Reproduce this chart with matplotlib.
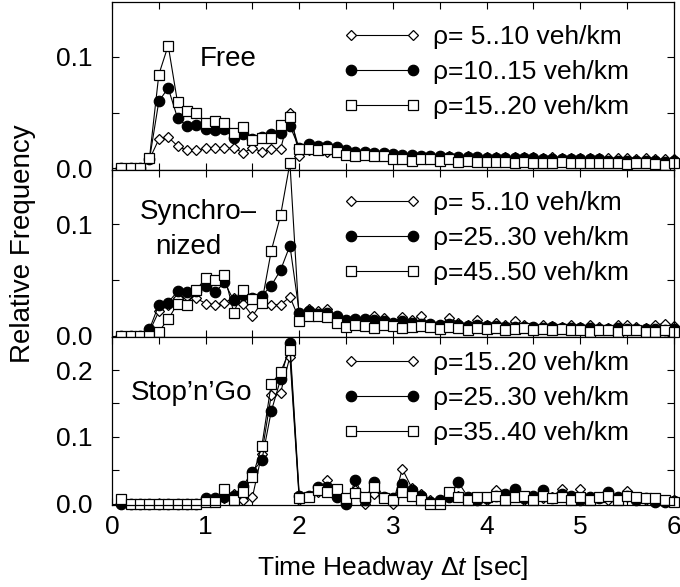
import numpy as np
import matplotlib
matplotlib.use("Agg")
import matplotlib.pyplot as plt
from matplotlib.ticker import MultipleLocator, FormatStrFormatter

plt.rcParams['font.family'] = ['Liberation Sans', 'DejaVu Sans']
plt.rcParams['mathtext.fontset'] = 'custom'
plt.rcParams['mathtext.rm'] = 'Liberation Sans'
plt.rcParams['mathtext.it'] = 'Liberation Sans:italic'

# time headway bins [sec]
headway = np.round(np.arange(1, 61) * 0.1, 1)

# free traffic
free_lo = [0, 0, 0, 0.008, 0.026, 0.028, 0.020, 0.016, 0.016, 0.018,
           0.018, 0.018, 0.018, 0.014, 0.018, 0.015, 0.017, 0.017, 0.050, 0.011,
           0.016, 0.016, 0.015, 0.016, 0.014, 0.014, 0.013, 0.013, 0.012, 0.012,
           0.011, 0.012, 0.011, 0.011, 0.011, 0.011, 0.010, 0.011, 0.010, 0.010,
           0.010, 0.010, 0.010, 0.010, 0.010, 0.009, 0.010, 0.009, 0.009, 0.009,
           0.009, 0.009, 0.009, 0.009, 0.009, 0.008, 0.009, 0.008, 0.008, 0.008]
free_mid = [0, 0, 0, 0.008, 0.060, 0.072, 0.045, 0.038, 0.039, 0.035,
            0.034, 0.035, 0.027, 0.031, 0.026, 0.028, 0.031, 0.032, 0.038, 0.018,
            0.022, 0.020, 0.020, 0.019, 0.016, 0.015, 0.015, 0.014, 0.014, 0.013,
            0.012, 0.012, 0.011, 0.011, 0.011, 0.010, 0.010, 0.010, 0.010, 0.009,
            0.009, 0.009, 0.009, 0.009, 0.009, 0.008, 0.008, 0.008, 0.008, 0.008,
            0.008, 0.008, 0.007, 0.007, 0.007, 0.007, 0.007, 0.007, 0.006, 0.007]
free_hi = [0, 0, 0, 0.009, 0.084, 0.110, 0.059, 0.051, 0.050, 0.041,
           0.042, 0.041, 0.032, 0.037, 0.025, 0.027, 0.027, 0.039, 0.046, 0.017,
           0.017, 0.016, 0.017, 0.015, 0.012, 0.011, 0.012, 0.011, 0.011, 0.008,
           0.008, 0.007, 0.008, 0.008, 0.007, 0.008, 0.006, 0.007, 0.006, 0.006,
           0.006, 0.006, 0.005, 0.006, 0.005, 0.005, 0.005, 0.006, 0.005, 0.005,
           0.005, 0.005, 0.005, 0.005, 0.004, 0.005, 0.005, 0.004, 0.003, 0.005]

# synchronized traffic
sync_lo = [0, 0, 0, 0.004, 0.022, 0.028, 0.034, 0.036, 0.034, 0.029,
           0.028, 0.030, 0.034, 0.029, 0.018, 0.030, 0.028, 0.028, 0.035, 0.015,
           0.024, 0.022, 0.024, 0.015, 0.012, 0.014, 0.012, 0.018, 0.016, 0.012,
           0.017, 0.014, 0.018, 0.010, 0.010, 0.016, 0.012, 0.010, 0.014, 0.010,
           0.012, 0.010, 0.013, 0.010, 0.008, 0.010, 0.009, 0.008, 0.010, 0.008,
           0.010, 0.008, 0.007, 0.010, 0.010, 0.008, 0.007, 0.010, 0.011, 0.009]
sync_mid = [0, 0, 0, 0.006, 0.028, 0.030, 0.040, 0.039, 0.040, 0.045,
            0.039, 0.048, 0.032, 0.037, 0.034, 0.036, 0.045, 0.059, 0.081, 0.021,
            0.022, 0.020, 0.021, 0.018, 0.014, 0.015, 0.015, 0.014, 0.013, 0.012,
            0.013, 0.012, 0.011, 0.011, 0.010, 0.011, 0.010, 0.009, 0.010, 0.009,
            0.009, 0.008, 0.008, 0.008, 0.008, 0.007, 0.008, 0.007, 0.007, 0.007,
            0.007, 0.006, 0.006, 0.007, 0.006, 0.006, 0.006, 0.006, 0.005, 0.006]
sync_hi = [0, 0, 0, 0, 0.004, 0.015, 0.029, 0.028, 0.041, 0.052,
           0.050, 0.055, 0.021, 0.041, 0.033, 0.030, 0.076, 0.108, 0.155, 0.013,
           0.018, 0.018, 0.017, 0.012, 0.008, 0.010, 0.009, 0.007, 0.010, 0.009,
           0.007, 0.008, 0.009, 0.008, 0.006, 0.008, 0.007, 0.005, 0.007, 0.006,
           0.007, 0.005, 0.006, 0.007, 0.005, 0.006, 0.005, 0.006, 0.005, 0.005,
           0.004, 0.005, 0.005, 0.004, 0.005, 0.005, 0.004, 0.004, 0.005, 0.004]

# stop-and-go traffic
stop_lo = [0.005, 0, 0, 0, 0, 0, 0, 0, 0, 0.003,
           0.004, 0.008, 0.015, 0.005, 0.010, 0.075, 0.162, 0.166, 0.220, 0.005,
           0.010, 0.018, 0.036, 0.015, 0.005, 0.020, 0.0, 0.015, 0.008, 0.0,
           0.052, 0.024, 0.015, 0.005, 0.005, 0.010, 0.012, 0.008, 0.010, 0.005,
           0.021, 0.008, 0.012, 0.005, 0.010, 0.008, 0.010, 0.022, 0.005, 0.022,
           0.008, 0.010, 0.005, 0.010, 0.019, 0.008, 0.005, 0.005, 0.005, 0.005]
stop_mid = [0, 0, 0, 0, 0, 0, 0, 0, 0, 0.009,
            0.008, 0.010, 0.012, 0.027, 0.048, 0.065, 0.138, 0.186, 0.240, 0.012,
            0.012, 0.025, 0.025, 0.010, 0.0, 0.035, 0.005, 0.033, 0.010, 0.008,
            0.030, 0.020, 0.012, 0.002, 0.005, 0.010, 0.032, 0.010, 0.005, 0.008,
            0.012, 0.015, 0.022, 0.008, 0.012, 0.020, 0.008, 0.015, 0.012, 0.005,
            0.010, 0.008, 0.018, 0.010, 0.012, 0.005, 0.008, 0.002, 0.003, 0.004]
stop_hi = [0.007, 0, 0, 0, 0, 0, 0, 0, 0, 0.003,
           0.003, 0.022, 0.006, 0.018, 0.040, 0.086, 0.179, 0.197, 0.230, 0.008,
           0.010, 0.020, 0.017, 0.022, 0.008, 0.016, 0.010, 0.025, 0.009, 0.005,
           0.018, 0.012, 0.005, 0.0, 0.0, 0.018, 0.010, 0.005, 0.010, 0.010,
           0.012, 0.005, 0.010, 0.012, 0.005, 0.012, 0.008, 0.010, 0.005, 0.010,
           0.005, 0.010, 0.012, 0.005, 0.012, 0.010, 0.008, 0.008, 0.005, 0.003]

free_labels = ["ρ= 5..10 veh/km", "ρ=10..15 veh/km", "ρ=15..20 veh/km"]
sync_labels = ["ρ= 5..10 veh/km", "ρ=25..30 veh/km", "ρ=45..50 veh/km"]
stop_labels = ["ρ=15..20 veh/km", "ρ=25..30 veh/km", "ρ=35..40 veh/km"]

styles = [dict(marker="D", ms=5.5, mfc="white"),
          dict(marker="o", ms=7.5, mfc="black"),
          dict(marker="s", ms=7.5, mfc="white")]

FS = 19

fig, axes = plt.subplots(3, 1, figsize=(6.8, 5.87), dpi=100, sharex=True)
fig.subplots_adjust(left=0.1647, right=0.991, top=0.9966, bottom=0.1397, hspace=0)

panels = [
    (axes[0], [free_lo, free_mid, free_hi], free_labels, 0.149, 0.863),
    (axes[1], [sync_lo, sync_mid, sync_hi], sync_labels, 0.149, 0.874),
    (axes[2], [stop_lo, stop_mid, stop_hi], stop_labels, 0.249, 0.917),
]

for ax, series, labels, ytop, legy in panels:
    for vals, lab, st in zip(series, labels, styles):
        ax.plot(headway, vals, color="black", lw=0.8, mec="black", mew=0.9,
                label=lab, clip_on=False, **st)
    ax.set_xlim(0, 6)
    ax.set_ylim(-0.0012 if ytop < 0.2 else -0.002, ytop)
    ax.xaxis.set_major_locator(MultipleLocator(1))
    ax.xaxis.set_minor_locator(MultipleLocator(0.5))
    ax.yaxis.set_major_locator(MultipleLocator(0.1))
    ax.yaxis.set_minor_locator(MultipleLocator(0.05))
    ax.yaxis.set_major_formatter(FormatStrFormatter("%.1f"))
    ax.tick_params(which="both", direction="in", top=True, right=True,
                   length=5, width=0.8, labelsize=FS)
    ax.tick_params(axis="y", pad=14)
    ax.tick_params(axis="x", pad=7)
    for sp in ax.spines.values():
        sp.set_linewidth(0.9)
    ax.legend(loc="upper left", bbox_to_anchor=(0.411, legy), frameon=False,
              numpoints=2, handlelength=2.95, handletextpad=0.45, borderpad=0,
              borderaxespad=0, labelspacing=0.42, fontsize=FS)

axes[0].text(0.157, 0.66, "Free", transform=axes[0].transAxes, fontsize=FS + 1,
             ha="left", va="center")
axes[1].text(0.05, 0.75, "Synchro–", transform=axes[1].transAxes, fontsize=FS + 1,
             ha="left", va="center")
axes[1].text(0.077, 0.54, "nized", transform=axes[1].transAxes, fontsize=FS + 1,
             ha="left", va="center")
axes[2].text(0.033, 0.67, "Stop’n’Go", transform=axes[2].transAxes, fontsize=FS + 1,
             ha="left", va="center")

axes[2].set_xlabel(r"Time Headway $\Delta\mathit{t}$ [sec]", fontsize=FS, labelpad=11)
fig.text(0.034, 0.585, "Relative Frequency", rotation=90, fontsize=FS + 1,
         ha="center", va="center")

fig.savefig("out.png", dpi=100)
